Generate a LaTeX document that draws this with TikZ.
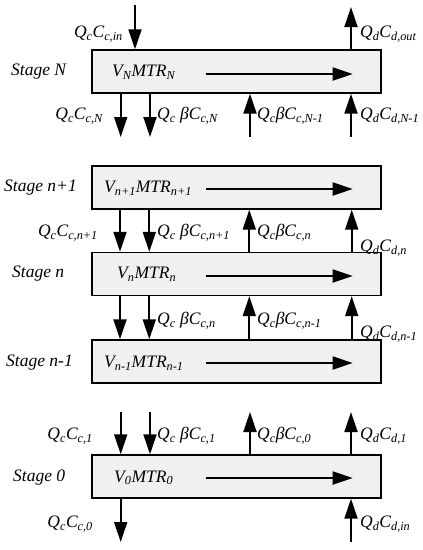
\documentclass[tikz,border=0pt]{standalone}
\usepackage{fontspec}
\setmainfont{Liberation Serif}
\usetikzlibrary{arrows.meta}
\newcommand{\lsub}[1]{\textsubscript{#1}}
\begin{document}
\begin{tikzpicture}[x=1pt,y=-1pt,
  stagebox/.style={draw,line width=1.4pt,fill=gray!12,minimum width=289pt,minimum height=43pt,inner sep=0pt},
  flow/.style={line width=1.9pt,-{Triangle[length=20pt,width=13pt]}},
  lbl/.style={font=\fontsize{17.5}{20}\selectfont\itshape,inner sep=0pt}]
\useasboundingbox (0,0) rectangle (423,550);
% stage N
\node[stagebox] (boxN) at (236.5,71.5) {};
\node[lbl,anchor=west] (stN) at (11,72) {Stage N};
\node[lbl,anchor=west] (vN) at (112,72) {V\lsub{N}MTR\lsub{N}};
\draw[flow] ([xshift=115pt,yshift=-2.5pt]boxN.west) -- ([xshift=-29pt,yshift=-2.5pt]boxN.east);
\coordinate (inN) at (135,5);
\coordinate (outN) at (351,7);
\draw[flow] (inN) -- (inN |- boxN.north);
\draw[flow] (outN |- boxN.north) -- (outN);
\coordinate (cN) at (120.7,137);
\coordinate (bN) at (150,137);
\coordinate (uN) at (250,137);
\coordinate (dN) at (351,137);
\draw[flow] (cN |- boxN.south) -- (cN);
\draw[flow] (bN |- boxN.south) -- (bN);
\draw[flow] (uN) -- (uN |- boxN.south);
\draw[flow] (dN) -- (dN |- boxN.south);
\node[lbl,anchor=east] (qin) at (123,34) {Q\lsub{c}C\lsub{c,in}};
\node[lbl,anchor=west] (qout) at (360,34) {Q\lsub{d}C\lsub{d,out}};
\node[lbl,anchor=east] (qcN) at (103,116) {Q\lsub{c}C\lsub{c,N}};
\node[lbl,anchor=west] (qbN) at (157,116) {Q\lsub{c} βC\lsub{c,N}};
\node[lbl,anchor=west] (quN) at (257,116) {Q\lsub{c}βC\lsub{c,N-1}};
\node[lbl,anchor=west] (qdN) at (360,116) {Q\lsub{d}C\lsub{d,N-1}};
% stage n+1
\node[stagebox] (boxNp) at (236.5,187.5) {};
\node[lbl,anchor=west] (stNp) at (4,188) {Stage n+1};
\node[lbl,anchor=west] (vNp) at (104,188) {V\lsub{n+1}MTR\lsub{n+1}};
\draw[flow] ([xshift=115pt,yshift=-1.5pt]boxNp.west) -- ([xshift=-29pt,yshift=-1.5pt]boxNp.east);
% stage n
\node[stagebox] (boxn) at (236.5,274) {};
\node[lbl,anchor=west] (stn) at (12,274) {Stage n};
\node[lbl,anchor=west] (vn) at (117,274) {V\lsub{n}MTR\lsub{n}};
\draw[flow] ([xshift=115pt,yshift=-2pt]boxn.west) -- ([xshift=-29pt,yshift=-2pt]boxn.east);
\draw[flow] ([xshift=28.7pt]boxNp.south west) -- ([xshift=28.7pt]boxn.north west);
\draw[flow] ([xshift=58pt]boxNp.south west) -- ([xshift=58pt]boxn.north west);
\draw[flow] ([xshift=158pt]boxn.north west) -- ([xshift=158pt]boxNp.south west);
\draw[flow] ([xshift=-30pt]boxn.north east) -- ([xshift=-30pt]boxNp.south east);
\node[lbl,anchor=east] (qcNp) at (98,233) {Q\lsub{c}C\lsub{c,n+1}};
\node[lbl,anchor=west] (qbNp) at (157,233) {Q\lsub{c} βC\lsub{c,n+1}};
\node[lbl,anchor=west] (qun) at (257,233) {Q\lsub{c}βC\lsub{c,n}};
\node[lbl,anchor=west] (qdn) at (360,248) {Q\lsub{d}C\lsub{d,n}};
% stage n-1
\node[stagebox] (boxnm) at (236.5,361.5) {};
\node[lbl,anchor=west] (stnm) at (6,363) {Stage n-1};
\node[lbl,anchor=west] (vnm) at (104,363) {V\lsub{n-1}MTR\lsub{n-1}};
\draw[flow] ([xshift=115pt,yshift=-1.5pt]boxnm.west) -- ([xshift=-29pt,yshift=-1.5pt]boxnm.east);
\draw[flow] ([xshift=28.7pt]boxn.south west) -- ([xshift=28.7pt]boxnm.north west);
\draw[flow] ([xshift=58pt]boxn.south west) -- ([xshift=58pt]boxnm.north west);
\draw[flow] ([xshift=158pt]boxnm.north west) -- ([xshift=158pt]boxn.south west);
\draw[flow] ([xshift=-30pt]boxnm.north east) -- ([xshift=-30pt]boxn.south east);
\node[lbl,anchor=west] (qbn) at (157,321) {Q\lsub{c} βC\lsub{c,n}};
\node[lbl,anchor=west] (qunm) at (257,321) {Q\lsub{c}βC\lsub{c,n-1}};
\node[lbl,anchor=west] (qdnm) at (360,334) {Q\lsub{d}C\lsub{d,n-1}};
% stage 0
\node[stagebox] (box0) at (236.5,476.5) {};
\node[lbl,anchor=west] (st0) at (13,478) {Stage 0};
\node[lbl,anchor=west] (v0) at (114,478) {V\lsub{0}MTR\lsub{0}};
\draw[flow] ([xshift=115pt,yshift=-1.5pt]box0.west) -- ([xshift=-29pt,yshift=-1.5pt]box0.east);
\coordinate (c1) at (120.7,412);
\coordinate (b1) at (150,412);
\coordinate (u0) at (250,412);
\coordinate (d1) at (351,412);
\draw[flow] (c1) -- (c1 |- box0.north);
\draw[flow] (b1) -- (b1 |- box0.north);
\draw[flow] (u0 |- box0.north) -- (u0);
\draw[flow] (d1 |- box0.north) -- (d1);
\coordinate (c0) at (120.7,542);
\coordinate (din) at (351,542);
\draw[flow] (c0 |- box0.south) -- (c0);
\draw[flow] (din) -- (din |- box0.south);
\node[lbl,anchor=east] (qc1) at (93,436) {Q\lsub{c}C\lsub{c,1}};
\node[lbl,anchor=west] (qb1) at (157,436) {Q\lsub{c} βC\lsub{c,1}};
\node[lbl,anchor=west] (qu0) at (257,436) {Q\lsub{c}βC\lsub{c,0}};
\node[lbl,anchor=west] (qd1) at (360,436) {Q\lsub{d}C\lsub{d,1}};
\node[lbl,anchor=east] (qc0) at (93,524) {Q\lsub{c}C\lsub{c,0}};
\node[lbl,anchor=west] (qdin) at (360,524) {Q\lsub{d}C\lsub{d,in}};
\end{tikzpicture}
\end{document}
